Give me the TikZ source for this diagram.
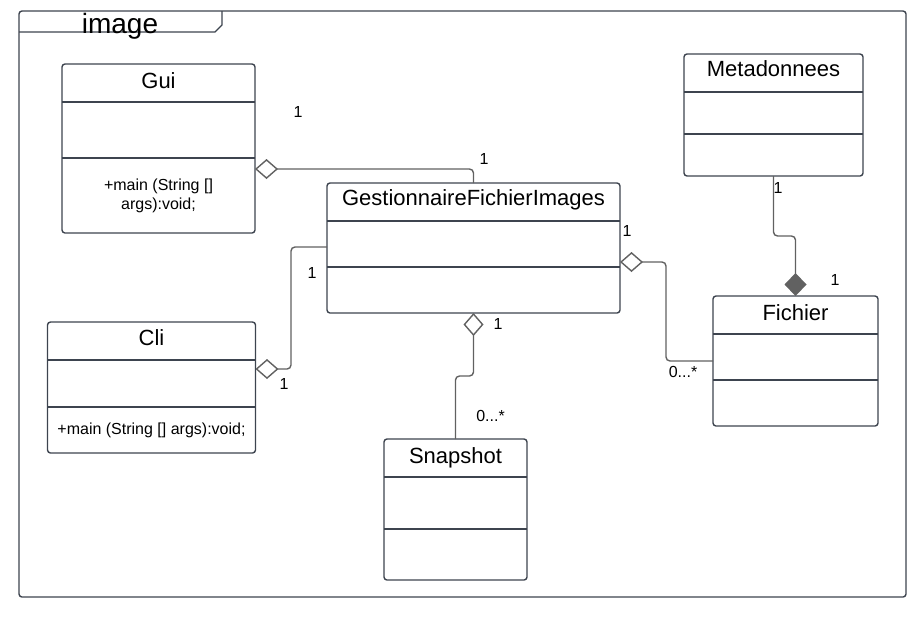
\documentclass[tikz,border=0pt]{standalone}
\usepackage{fontspec}
\setmainfont{Liberation Sans}
\usetikzlibrary{arrows.meta}
\definecolor{boxline}{HTML}{3D444F}
\definecolor{connline}{HTML}{616161}
\tikzset{
	umlbox/.style={draw=boxline, line width=0.7pt, rounded corners=1.5pt, inner sep=0pt, outer sep=0pt},
	umldiv/.style={draw=boxline, line width=0.7pt},
	umlname/.style={font=\fontsize{11}{13}\selectfont, inner sep=0pt, anchor=base},
	umltext/.style={font=\fontsize{8}{9.5}\selectfont, inner sep=0pt, anchor=base, align=center},
	mult/.style={font=\fontsize{8}{9.5}\selectfont, inner sep=0pt},
	conn/.style={draw=connline, line width=0.7pt, rounded corners=2pt},
	agg/.style={conn, {Diamond[open, length=11.5pt, width=10pt]}-},
	comp/.style={conn, {Diamond[fill=connline, length=11.5pt, width=11pt]}-},
}

\begin{document}
\begin{tikzpicture}[x=0.5pt, y=-0.5pt]
			%%%%% START %%%%%
			\useasboundingbox (0, 0) rectangle (920, 617);
			
			% frame
			\draw[draw=boxline, line width=0.7pt, rounded corners=1.5pt] (19, 11) rectangle (906, 597);
			\draw[draw=boxline, line width=0.7pt] (19, 32) -- (215, 32) -- (222, 25) -- (222, 11);
			\node[font=\fontsize{14}{16}\selectfont, inner sep=0pt, anchor=base] (frame-t) at (120, 33) {image};
			
			% Gui
			\node[umlbox, minimum width=96.5pt, minimum height=84.5pt] (gui) at (158.5, 148.5) {};
			\draw[umldiv] (gui.west |- 0, 102) -- (gui.east |- 0, 102);
			\draw[umldiv] (gui.west |- 0, 158) -- (gui.east |- 0, 158);
			\node[umlname] (gui-t) at (158.5, 88) {Gui};
			\node[umltext] (gui-m) at (158.5, 209) {+main (String []\\args):void;};
			
			% GestionnaireFichierImages
			\node[umlbox, minimum width=146.5pt, minimum height=65pt] (gest) at (473.5, 248) {};
			\draw[umldiv] (gest.west |- 0, 221) -- (gest.east |- 0, 221);
			\draw[umldiv] (gest.west |- 0, 267) -- (gest.east |- 0, 267);
			\node[umlname] (gest-t) at (473.5, 205.5) {GestionnaireFichierImages};
			
			% Cli
			\node[umlbox, minimum width=104pt, minimum height=65.5pt] (cli) at (151.5, 387.5) {};
			\draw[umldiv] (cli.west |- 0, 360) -- (cli.east |- 0, 360);
			\draw[umldiv] (cli.west |- 0, 407) -- (cli.east |- 0, 407);
			\node[umlname] (cli-t) at (151.5, 345) {Cli};
			\node[umltext] (cli-m) at (151.5, 434) {+main (String [] args):void;};
			
			% Snapshot
			\node[umlbox, minimum width=71.5pt, minimum height=70.5pt] (snap) at (455.5, 509.5) {};
			\draw[umldiv] (snap.west |- 0, 477) -- (snap.east |- 0, 477);
			\draw[umldiv] (snap.west |- 0, 529) -- (snap.east |- 0, 529);
			\node[umlname] (snap-t) at (455.5, 463) {Snapshot};
			
			% Metadonnees
			\node[umlbox, minimum width=89.5pt, minimum height=61pt] (meta) at (773.5, 115) {};
			\draw[umldiv] (meta.west |- 0, 92) -- (meta.east |- 0, 92);
			\draw[umldiv] (meta.west |- 0, 134) -- (meta.east |- 0, 134);
			\node[umlname] (meta-t) at (773.5, 76.5) {Metadonnees};
			
			% Fichier
			\node[umlbox, minimum width=82.5pt, minimum height=65pt] (fich) at (795.5, 361) {};
			\draw[umldiv] (fich.west |- 0, 334) -- (fich.east |- 0, 334);
			\draw[umldiv] (fich.west |- 0, 380) -- (fich.east |- 0, 380);
			\node[umlname] (fich-t) at (795.5, 320) {Fichier};
			
			% connectors
			\draw[agg] (gui.east |- 0, 169) -| (gest.north);
			\draw[agg] (cli.east |- 0, 369) -- (291, 369) |- (gest.west |- 0, 247);
			\draw[agg] (gest.south) -- (473.5, 376) -| (snap.north);
			\draw[agg] (gest.east |- 0, 262) -- (666, 262) |- (fich.west);
			\draw[comp] (fich.north) |- (meta.south |- 0, 236) -- (meta.south);
			
			% multiplicities
			\node[mult] (m-gui) at (298, 112) {1};
			\node[mult] (m-gest-a) at (484, 159) {1};
			\node[mult] (m-gest-b) at (312, 273) {1};
			\node[mult] (m-cli) at (284, 384) {1};
			\node[mult] (m-gest-c) at (498, 324) {1};
			\node[mult] (m-snap) at (490.5, 416) {0...*};
			\node[mult] (m-gest-d) at (627, 231) {1};
			\node[mult] (m-fich-a) at (683, 372) {0...*};
			\node[mult] (m-meta) at (778, 188) {1};
			\node[mult] (m-fich-b) at (835, 280) {1};
			
			%%%%% END %%%%%
\end{tikzpicture}
\end{document}
